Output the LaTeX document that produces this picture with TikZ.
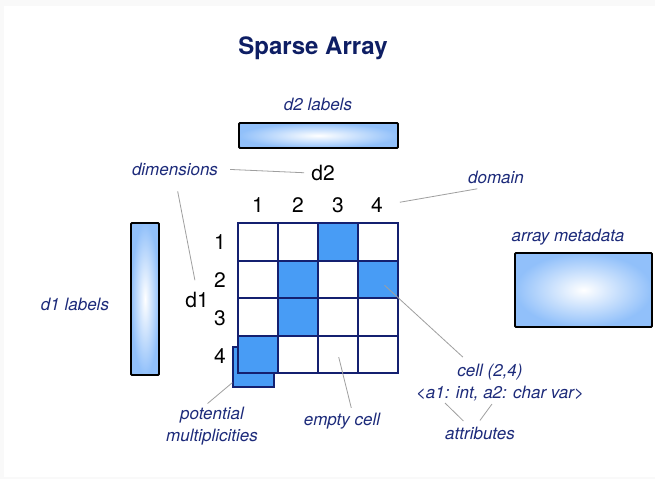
\documentclass[tikz,border=0pt]{standalone}
\usepackage{fontspec}
\setmainfont{TeX Gyre Heros}
\definecolor{navy}{RGB}{28,42,122}
\definecolor{titlenavy}{RGB}{14,30,100}
\definecolor{gridnavy}{RGB}{20,32,112}
\definecolor{cellblue}{RGB}{72,156,245}
\definecolor{barblue}{RGB}{145,192,250}
\begin{document}
\begin{tikzpicture}[x=1pt, y=-1pt,
    lbl/.style={font=\fontsize{17}{22}\selectfont\itshape, text=navy, inner sep=2pt},
    num/.style={font=\fontsize{21}{24}\selectfont, inner sep=1pt},
    cell/.style={draw=gridnavy, line width=2pt, minimum width=40pt, minimum height=37.5pt, inner sep=0pt, fill=white},
    full/.style={cell, fill=cellblue},
    bar/.style={draw=black, line width=1.8pt, rounded corners=1pt, inner color=white, outer color=barblue, inner sep=0pt},
    pointer/.style={gray!75, line width=0.8pt}]
        % Nền trang
        \useasboundingbox (0,0) rectangle (655,479);
        \fill[gray!5] (0,0) rectangle (655,479);
        \fill[white] (4,6) rectangle (655,477);

        % Tiêu đề
        \node[font=\fontsize{24}{28}\selectfont\bfseries, text=titlenavy] (title) at (313,48) {Sparse Array};

        % Các thanh nhãn và metadata
        \node[lbl] (d2lbl) at (318,104) {d2 labels};
        \node[bar, minimum width=159pt, minimum height=25pt] (d2bar) at (318.5,135.5) {};
        \node[bar, minimum width=28pt, minimum height=152pt] (d1bar) at (145,299) {};
        \node[lbl] (d1lbl) at (75,304) {d1 labels};
        \node[lbl] (metalbl) at (568,237) {array metadata};
        \node[bar, minimum width=137pt, minimum height=74pt] (meta) at (583.5,290) {};

        % Ô phụ (nhiều giá trị)
        \node[full, line width=1.4pt, minimum width=41pt, minimum height=40pt] (extra) at (253.5,367) {};

        % Lưới 4x4
        \foreach \r in {1,...,4}
          \foreach \c in {1,...,4}
            \node[cell] (c\r\c) at ({238+40*(\c-0.5)}, {223+37.5*(\r-0.5)}) {};
        \foreach \r/\c in {1/3, 2/2, 2/4, 3/2, 4/1}
            \node[full] (c\r\c) at ({238+40*(\c-0.5)}, {223+37.5*(\r-0.5)}) {};

        % Chỉ số hàng và cột
        \foreach \c/\x in {1/258, 2/298, 3/338, 4/377}
            \node[num] (col\c) at (\x,205) {\c};
        \foreach \r/\y in {1/242, 2/280, 3/318, 4/356}
            \node[num] (row\r) at (220,\y) {\r};
        \node[num] (d2) at (323,173) {d2};
        \node[num] (d1) at (197,300) {d1};

        % Chú thích
        \node[lbl] (dims) at (175,169) {dimensions};
        \node[lbl] (domain) at (496,177) {domain};
        \node[lbl] (cellinfo) at (490,372) {cell (2,4)};
        \node[lbl] (attrs) at (500,394) {<a1: int, a2: char var>};
        \node[lbl] (attrib) at (480,433) {attributes};
        \node[lbl, align=center] (multi) at (212,426) {potential\\multiplicities};
        \node[lbl] (emptyc) at (342,421) {empty cell};
        \coordinate (a1pt) at (445,403);
        \coordinate (a2pt) at (492,404);

        % Đường chỉ dẫn
        \draw[pointer, shorten <=10pt, shorten >=6pt] (dims.east) -- (d2.west);
        \draw[pointer, shorten <=14pt, shorten >=11pt] (dims.south) -- (d1.north);
        \draw[pointer, shorten <=19pt, shorten >=16pt] (domain.south) -- (col4.east);
        \draw[pointer, shorten <=7pt, shorten >=9pt] ([xshift=-22pt]cellinfo.north) -- (c24.center);
        \draw[pointer, shorten <=5pt] ([xshift=-13pt]attrib.north) -- (a1pt);
        \draw[pointer, shorten <=5pt] ([xshift=-3pt]attrib.north) -- (a2pt);
        \draw[pointer, shorten <=2pt] ([xshift=-6pt]multi.north) -- ([yshift=5pt]extra.south west);
        \draw[pointer, shorten <=3pt, shorten >=3pt] ([xshift=10pt]emptyc.north) -- (c43.center);
\end{tikzpicture}
\end{document}
